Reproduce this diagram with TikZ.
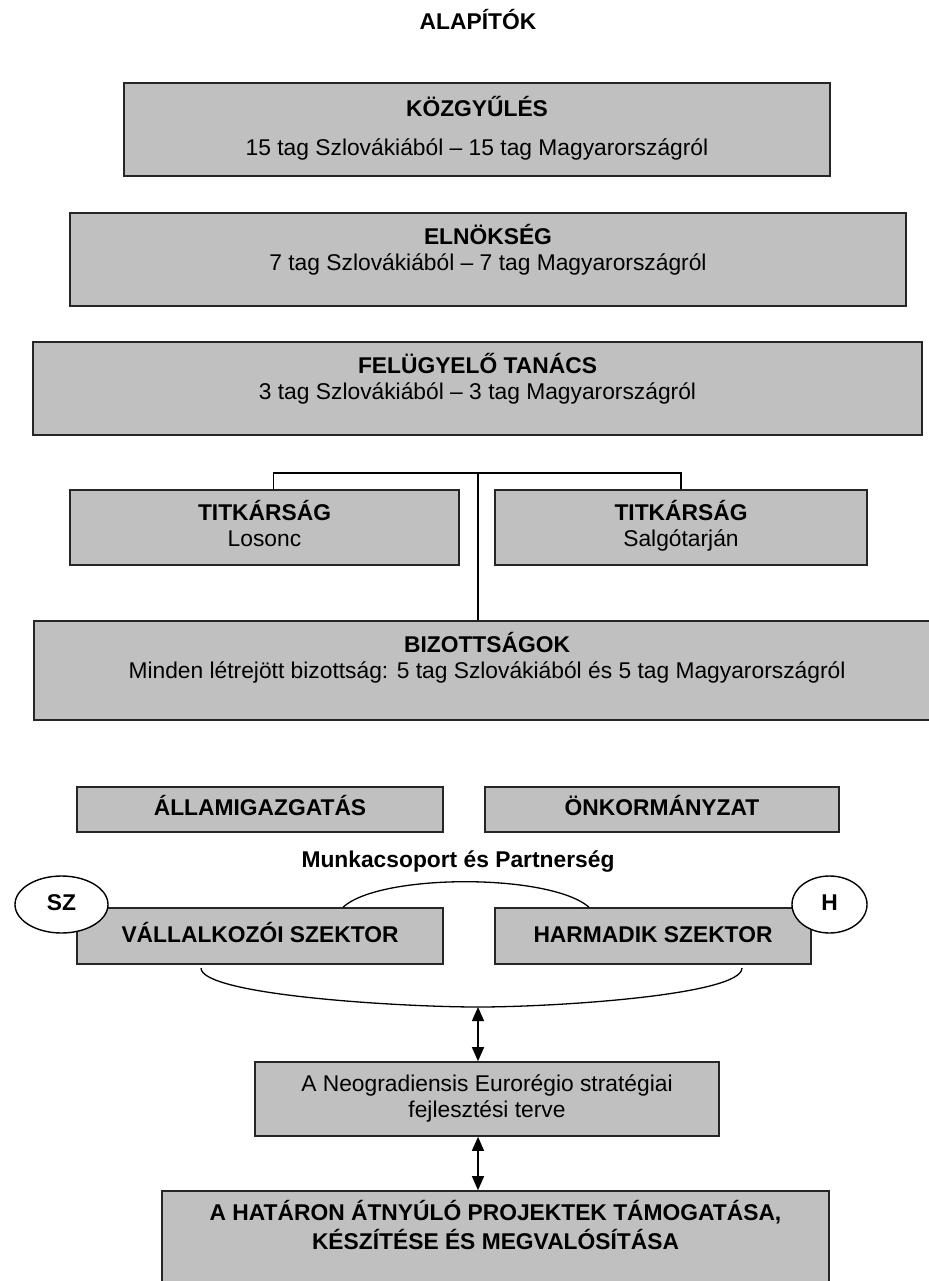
\documentclass[tikz,border=0pt]{standalone}
\usepackage{fontspec}
\setmainfont{Liberation Sans}
\usepackage{tikz}
\usetikzlibrary{
    arrows.meta,
    shapes.geometric
}

\definecolor{boxgray}{RGB}{192,192,192}

\begin{document}
\fontsize{22.8}{26}\selectfont
\begin{tikzpicture}[x=1pt,y=-1pt,
    box/.style={draw=black!85, fill=boxgray, line width=1.6pt, inner sep=0pt, align=center},
    oneline/.style={text height=16pt, text depth=4pt},
    oval/.style={ellipse, draw=black, fill=white, line width=1.4pt, inner sep=0pt, font=\bfseries},
    link/.style={line width=1.3pt},
    both/.style={line width=1.3pt, {Triangle[width=12pt,length=14pt]}-{Triangle[width=12pt,length=14pt]}}]

\useasboundingbox (0,0) rectangle (928,1281);

% Founders
\node[font=\bfseries] (alapitok) at (478,20) {ALAPÍTÓK};

% Bodies
\node[box, minimum width=706pt, minimum height=93pt] (kozgy) at (477,129.5)
    {\strut\textbf{KÖZGYŰLÉS}\\[13pt]15 tag Szlovákiából – 15 tag Magyarországról\strut};
\node[box, minimum width=836pt, minimum height=93pt] (elnok) at (488,259.5)
    {\strut\textbf{ELNÖKSÉG}\\7 tag Szlovákiából – 7 tag Magyarországról\\[-10pt]\strut};
\node[box, minimum width=889pt, minimum height=93pt] (felugy) at (477.5,388.5)
    {\strut\textbf{FELÜGYELŐ TANÁCS}\\3 tag Szlovákiából – 3 tag Magyarországról\\[-10pt]\strut};

% Secretariats
\node[box, minimum width=389pt, minimum height=75pt] (titkL) at (264.5,527.5)
    {\strut\textbf{TITKÁRSÁG}\\Losonc\strut};
\node[box, minimum width=372pt, minimum height=75pt] (titkR) at (681,527.5)
    {\strut\textbf{TITKÁRSÁG}\\Salgótarján\strut};

% Committees
\node[box, minimum width=906pt, minimum height=99pt] (bizott) at (487,670.5)
    {\strut\textbf{BIZOTTSÁGOK}\\Minden létrejött bizottság: 5 tag Szlovákiából és 5 tag Magyarországról\\[-4pt]\strut};

% Bracket
\coordinate (split) at (478,473);
\draw[link] ([xshift=9pt]titkL.north) |- (split) -| (titkR.north);
\draw[link] (split) -- (split |- bizott.north);

% Sectors
\node[box, oneline, font=\bfseries, minimum width=366pt, minimum height=45pt] (allam) at (260,809.5) {ÁLLAMIGAZGATÁS};
\node[box, oneline, font=\bfseries, minimum width=354pt, minimum height=45pt] (onkorm) at (662,809.5) {ÖNKORMÁNYZAT};
\node[font=\bfseries] (munka) at (458,862) {Munkacsoport és Partnerség};
\node[box, oneline, font=\bfseries, minimum width=366pt, minimum height=56pt] (vall) at (260,936) {VÁLLALKOZÓI SZEKTOR};
\node[box, oneline, font=\bfseries, minimum width=316pt, minimum height=56pt] (harm) at (653,936) {HARMADIK SZEKTOR};
\node[oval, oneline, minimum width=93pt, minimum height=57pt] (sz) at (61.5,904.5) {SZ};
\node[oval, oneline, minimum width=75pt, minimum height=57pt] (h) at (829.5,904.5) {H};

\draw[link] ([xshift=83pt]vall.north) .. controls +(37,-34) and +(-39,-34) .. ([xshift=-64pt]harm.north);

% Lower bracket
\coordinate (brL) at (201,968);
\coordinate (brB) at (478,1007);
\coordinate (brR) at (742,968);
\draw[link] (brL) .. controls (201,995) and (400,1007) .. (brB) .. controls (556,1007) and (742,995) .. (brR);

% Plan and projects
\node[box, minimum width=464pt, minimum height=74pt] (plan) at (487,1099)
    {\strut A Neogradiensis Eurorégio stratégiai\\fejlesztési terve\strut};
\node[box, font=\bfseries, minimum width=667pt, minimum height=94pt] (proj) at (495.5,1238)
    {\strut A HATÁRON ÁTNYÚLÓ PROJEKTEK TÁMOGATÁSA,\\KÉSZÍTÉSE ÉS MEGVALÓSÍTÁSA\\[-8pt]\strut};

\draw[both] (brB) -- (brB |- plan.north);
\draw[both] (brB |- plan.south) -- (brB |- proj.north);

\end{tikzpicture}
\end{document}
